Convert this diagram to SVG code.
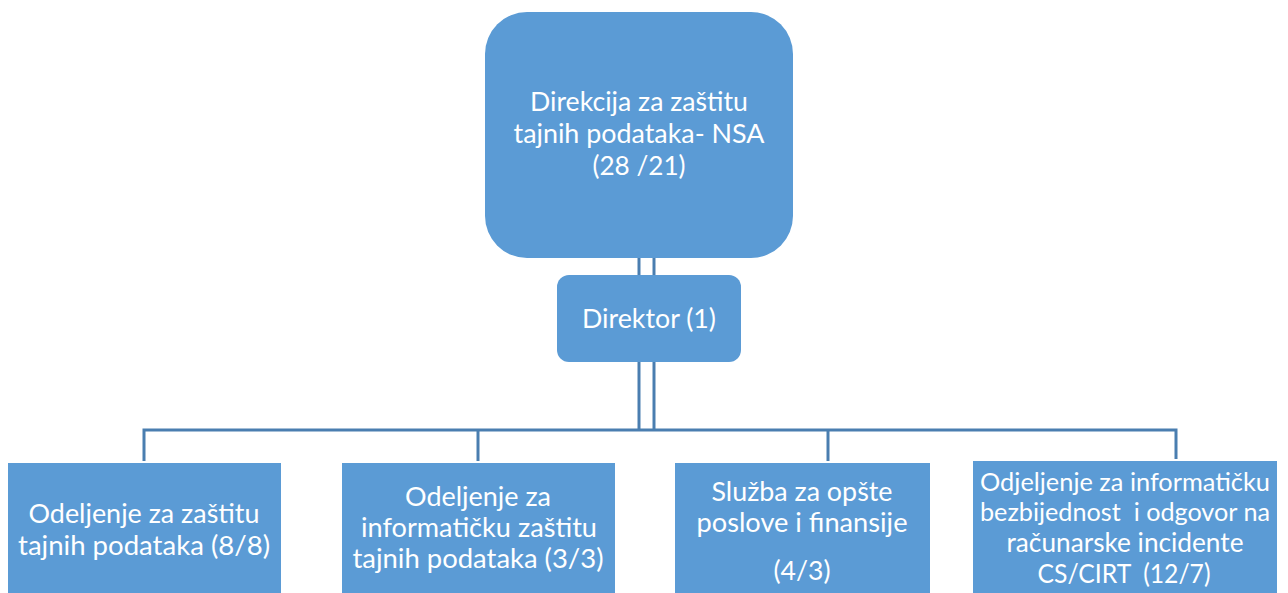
<svg xmlns="http://www.w3.org/2000/svg" width="1288" height="593" viewBox="0 0 1288 593">
<style>
.box{fill:#5b9bd5;}
.t{font-family:Lato,"Open Sans","Liberation Sans",sans-serif;font-size:27.5px;fill:#ffffff;text-anchor:middle;}
.s{font-size:25px;}
.c{stroke:#4a7eb0;stroke-width:3;fill:none;}
</style>
<rect width="1288" height="593" fill="#ffffff"/>
<g id="connectors">
<line class="c" x1="639" y1="258" x2="639" y2="276"/>
<line class="c" x1="654" y1="258" x2="654" y2="276"/>
<line class="c" x1="639" y1="362" x2="639" y2="430"/>
<line class="c" x1="654" y1="362" x2="654" y2="430"/>
<polyline class="c" points="144,461 144,430 1176,430 1176,459"/>
<line class="c" x1="478" y1="430" x2="478" y2="461"/>
<line class="c" x1="828" y1="430" x2="828" y2="461"/>
</g>
<g id="nsa">
<rect class="box" x="485" y="12" width="308" height="246" rx="42"/>
<text class="t" x="639" y="111" textLength="218" lengthAdjust="spacingAndGlyphs">Direkcija za zaštitu</text>
<text class="t" x="639" y="143" textLength="251" lengthAdjust="spacingAndGlyphs">tajnih podataka- NSA</text>
<text class="t" x="639" y="175" textLength="93" lengthAdjust="spacingAndGlyphs">(28 /21)</text>
</g>
<g id="direktor">
<rect class="box" x="557" y="275" width="184" height="87" rx="12"/>
<text class="t" x="649" y="328" textLength="134" lengthAdjust="spacingAndGlyphs">Direktor (1)</text>
</g>
<g id="odeljenje1">
<rect class="box" x="8" y="463" width="273" height="135"/>
<text class="t" x="144" y="523" textLength="231" lengthAdjust="spacingAndGlyphs">Odeljenje za zaštitu</text>
<text class="t" x="144" y="555" textLength="252" lengthAdjust="spacingAndGlyphs">tajnih podataka (8/8)</text>
</g>
<g id="odeljenje2">
<rect class="box" x="342" y="463" width="273" height="135"/>
<text class="t" x="478" y="506" textLength="146" lengthAdjust="spacingAndGlyphs">Odeljenje za</text>
<text class="t" x="479" y="537" textLength="236" lengthAdjust="spacingAndGlyphs">informatičku zaštitu</text>
<text class="t" x="478" y="568" textLength="251" lengthAdjust="spacingAndGlyphs">tajnih podataka (3/3)</text>
</g>
<g id="sluzba">
<rect class="box" x="675" y="463" width="255" height="135"/>
<text class="t" x="802" y="501" textLength="181" lengthAdjust="spacingAndGlyphs">Služba za opšte</text>
<text class="t" x="802" y="532" textLength="211" lengthAdjust="spacingAndGlyphs">poslove i finansije</text>
<text class="t" x="802" y="580" textLength="57" lengthAdjust="spacingAndGlyphs">(4/3)</text>
</g>
<g id="cirt">
<rect class="box" x="973" y="461" width="304" height="137"/>
<text class="t s" x="1125" y="491" textLength="290" lengthAdjust="spacingAndGlyphs">Odjeljenje za informatičku</text>
<text class="t s" x="1125" y="521" textLength="290" lengthAdjust="spacingAndGlyphs" xml:space="preserve">bezbijednost  i odgovor na</text>
<text class="t" x="1125" y="552" textLength="237" lengthAdjust="spacingAndGlyphs">računarske incidente</text>
<text class="t" x="1124" y="583" textLength="173" lengthAdjust="spacingAndGlyphs" xml:space="preserve">CS/CIRT  (12/7)</text>
</g>
</svg>
